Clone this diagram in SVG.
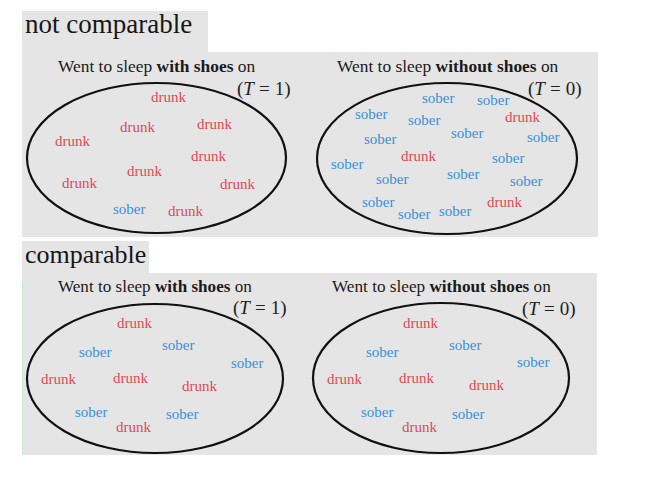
<svg xmlns="http://www.w3.org/2000/svg" width="646" height="479" viewBox="0 0 646 479">
<style>
.bg{fill:#e5e5e5}
.title{font-family:"Liberation Serif",serif;font-size:27px;fill:#161616}
.sub{font-family:"Liberation Serif",serif;font-size:17.4px;fill:#1a1a1a}
.sub .b{font-weight:bold}
.t{font-family:"Liberation Serif",serif;font-size:19px;fill:#222}
.t .i{font-style:italic}
.ell{fill:none;stroke:#111;stroke-width:2.2}
.d{font-family:"Liberation Serif",serif;font-size:15px;fill:#dc4a55}
.s{font-family:"Liberation Serif",serif;font-size:15px;fill:#3a90d8}
</style>
<rect width="646" height="479" fill="#ffffff"/>

<g id="not-comparable">
<rect class="bg" x="22" y="11" width="186" height="42"/>
<rect class="bg" x="22" y="52" width="576" height="185"/>
<text class="title" x="25" y="33">not comparable</text>
</g>

<g id="top-treated">
<text class="sub" x="58" y="72">Went to sleep <tspan class="b">with shoes</tspan> on</text>
<text class="t" x="237" y="95">(<tspan class="i">T</tspan><tspan dx="5">=</tspan><tspan dx="5">1)</tspan></text>
<ellipse class="ell" cx="156.5" cy="158" rx="129.5" ry="75"/>
<text class="d" x="151" y="102">drunk</text>
<text class="d" x="120" y="132">drunk</text>
<text class="d" x="197" y="129">drunk</text>
<text class="d" x="55" y="146">drunk</text>
<text class="d" x="191" y="161">drunk</text>
<text class="d" x="127" y="176">drunk</text>
<text class="d" x="62" y="188">drunk</text>
<text class="d" x="220" y="189">drunk</text>
<text class="s" x="113" y="214">sober</text>
<text class="d" x="168" y="216">drunk</text>
</g>

<g id="top-control">
<text class="sub" x="337" y="72">Went to sleep <tspan class="b">without shoes</tspan> on</text>
<text class="t" x="528" y="95">(<tspan class="i">T</tspan><tspan dx="5">=</tspan><tspan dx="5">0)</tspan></text>
<ellipse class="ell" cx="447" cy="158.5" rx="130" ry="75.5"/>
<text class="s" x="422" y="103">sober</text>
<text class="s" x="477" y="105">sober</text>
<text class="s" x="355" y="119">sober</text>
<text class="s" x="408" y="125">sober</text>
<text class="d" x="505" y="122">drunk</text>
<text class="s" x="451" y="138">sober</text>
<text class="s" x="527" y="142">sober</text>
<text class="s" x="364" y="144">sober</text>
<text class="d" x="401" y="161">drunk</text>
<text class="s" x="492" y="163">sober</text>
<text class="s" x="331" y="169">sober</text>
<text class="s" x="376" y="184">sober</text>
<text class="s" x="447" y="179">sober</text>
<text class="s" x="510" y="186">sober</text>
<text class="s" x="362" y="207">sober</text>
<text class="d" x="487" y="207">drunk</text>
<text class="s" x="398" y="219">sober</text>
<text class="s" x="439" y="216">sober</text>
</g>

<g id="comparable">
<rect class="bg" x="22" y="241" width="127" height="33"/>
<rect class="bg" x="22" y="273" width="575" height="182"/>
<line x1="22.5" y1="282" x2="22.5" y2="455" stroke="#c4e8cb" stroke-width="1"/>
<text class="title" x="25" y="263" style="font-size:26px">comparable</text>
</g>

<g id="bottom-treated">
<text class="sub" x="58" y="292" style="font-size:17.1px">Went to sleep <tspan class="b">with shoes</tspan> on</text>
<text class="t" x="233" y="314">(<tspan class="i">T</tspan><tspan dx="5">=</tspan><tspan dx="5">1)</tspan></text>
<ellipse class="ell" cx="155" cy="378.5" rx="128" ry="74.5"/>
<text class="d" x="117" y="328">drunk</text>
<text class="s" x="79" y="357">sober</text>
<text class="s" x="162" y="350">sober</text>
<text class="s" x="231" y="368">sober</text>
<text class="d" x="41" y="384">drunk</text>
<text class="d" x="113" y="383">drunk</text>
<text class="d" x="182" y="391">drunk</text>
<text class="s" x="75" y="417">sober</text>
<text class="s" x="166" y="419">sober</text>
<text class="d" x="116" y="432">drunk</text>
</g>

<g id="bottom-control">
<text class="sub" x="332" y="292" style="font-size:17.2px">Went to sleep <tspan class="b">without shoes</tspan> on</text>
<text class="t" x="522" y="315">(<tspan class="i">T</tspan><tspan dx="5">=</tspan><tspan dx="5">0)</tspan></text>
<ellipse class="ell" cx="441" cy="378" rx="128" ry="75"/>
<text class="d" x="403" y="328">drunk</text>
<text class="s" x="366" y="357">sober</text>
<text class="s" x="449" y="350">sober</text>
<text class="s" x="517" y="367">sober</text>
<text class="d" x="327" y="384">drunk</text>
<text class="d" x="399" y="383">drunk</text>
<text class="d" x="469" y="390">drunk</text>
<text class="s" x="361" y="417">sober</text>
<text class="s" x="452" y="419">sober</text>
<text class="d" x="402" y="432">drunk</text>
</g>
</svg>
